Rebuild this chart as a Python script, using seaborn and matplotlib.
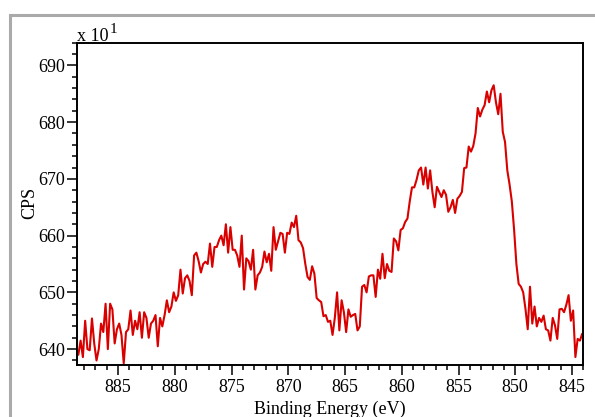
from matplotlib import pyplot as plt, patches
from matplotlib.ticker import MultipleLocator
import numpy as np
import pandas as pd
import seaborn as sns

# binding energy runs 888.7 -> 844.1 eV in 0.2 eV steps (one value per step)
energy_start = 888.7
energy_end = 844.1

# counts (x 10^1), segment by segment
cps_887_881 = [640, 639, 641.5, 638.6,
               645, 640, 639.8, 645.4, 641,
               638, 640, 644.5, 643, 648,
               640, 648, 647, 641, 643.5,
               644.5, 642.5, 637.5, 643, 643.5,
               646.8, 642.5, 645, 643.5, 646.5,
               642, 646.5, 645.5, 642, 644.5,
               645, 646, 640.5, 645.5, 644]
cps_881_874 = [646, 648.6, 646.5, 647.5, 650,
               648.5, 649.5, 654, 649.8, 652.5,
               653, 652, 649.5, 656.5, 657,
               655.5, 653.5, 655, 655.4, 655,
               658.6, 654.5, 658, 658, 659.2,
               660, 658.3, 662, 657, 661.5,
               657.5, 657.5, 656.5, 654.5, 660,
               650.5]
cps_874_866 = [656, 655.5, 654, 657.5,
               650.5, 653, 653.5, 654.5, 657.2,
               655.3, 656.8, 653.8, 661.5, 657.5,
               659, 660.5, 660.3, 657, 660.5,
               660.3, 662.3, 661.5, 663.5, 659.2,
               658.8, 657.8, 655, 652.7, 652.2,
               654.6, 653.3, 649, 648.6, 648.3,
               645.8, 646, 644.8]
cps_866_858 = [645, 642.5,
               645.5, 650, 643.3, 648.6, 646.5,
               643, 647, 645.7, 646, 646.2,
               643.3, 644, 651, 651.3, 650,
               652.8, 653, 653, 649.2, 654,
               652.4, 656.8, 652.5, 655, 653.8,
               653.6, 659.5, 659, 657.4, 661,
               661.3, 662.4, 663, 666, 668.5,
               668.5, 669.8, 671.5, 672]
cps_858_851 = [669,
               672, 668.3, 671.5, 667.7, 665,
               668.6, 667.7, 666.8, 668, 667.2,
               664.2, 665, 666.3, 664, 666.5,
               667, 667.7, 671.9, 672, 675.7,
               674.8, 675.8, 678, 682.5, 681,
               682.2, 683, 685.4, 683.5, 685.6,
               686.5, 683.5, 681.4, 685, 678.3]
cps_851_844 = [676.5, 671.5, 669, 666, 661,
               655, 651.5, 651, 650, 647.1,
               643.5, 651, 644.5, 647.5, 644,
               645.5, 644.8, 645.9, 643.5, 643.3,
               641.5, 645.5, 644.2, 641.8, 647,
               647.1, 646.5, 647.8, 649.5, 645,
               646.8, 638.6, 641.8, 641.5, 642.7]

cps = cps_887_881 + cps_881_874 + cps_874_866 + cps_866_858 + cps_858_851 + cps_851_844
energy = np.linspace(energy_start, energy_end, len(cps))
df = pd.DataFrame({"Binding Energy": energy, "CPS": cps})

sns.set_style("ticks")
plt.rcParams['font.family'] = ['Liberation Serif', 'DejaVu Serif']
plt.rcParams['text.color'] = 'black'
plt.rcParams['xtick.labelcolor'] = 'black'
plt.rcParams['ytick.labelcolor'] = 'black'

fig = plt.figure(figsize=(5.95, 4.17), dpi=100)
ax = fig.add_axes([0.129, 0.1247, 0.8514, 0.7729])

sns.lineplot(data=df, x="Binding Energy", y="CPS", sort=False, color='#d90000', lw=1.5, ax=ax)

ax.set_xlim(888.64, 844.0)
ax.set_ylim(637.2, 694.0)
ax.xaxis.set_major_locator(MultipleLocator(5))
ax.xaxis.set_minor_locator(MultipleLocator(1))
ax.yaxis.set_major_locator(MultipleLocator(10))
ax.yaxis.set_minor_locator(MultipleLocator(2))
ax.tick_params(which='major', direction='out', length=7.2, width=1.1, labelsize=13,
	color='black', labelcolor='black')
ax.tick_params(which='minor', direction='out', length=3.6, width=1.1, color='black')
ax.tick_params(axis='y', pad=1)
ax.tick_params(axis='x', pad=3)
for s in ax.spines.values():
	s.set_visible(True)
	s.set_linewidth(1.4)
	s.set_color('black')
ax.set_xlabel("")
ax.set_ylabel("")

fig.text(30/595, 1-203/417, "CPS", rotation=90, ha='center', va='center', fontsize=13)
fig.text(330/595, 1-413.6/417, "Binding Energy (eV)", ha='center', va='baseline', fontsize=13)
fig.text(76.7/595, 1-41/417, "x 10", ha='left', va='baseline', fontsize=13)
fig.text(109.5/595, 1-33/417, "1", ha='left', va='baseline', fontsize=11)

# grey frame round the panel
fig.patches.append(patches.Rectangle((9.7/595, -0.1), 1.2, 0.9633 + 0.1, transform=fig.transFigure,
	fill=False, edgecolor='#aaaaaa', lw=2.2, clip_on=False))

fig.savefig("out.png", dpi=100)
plt.close()
